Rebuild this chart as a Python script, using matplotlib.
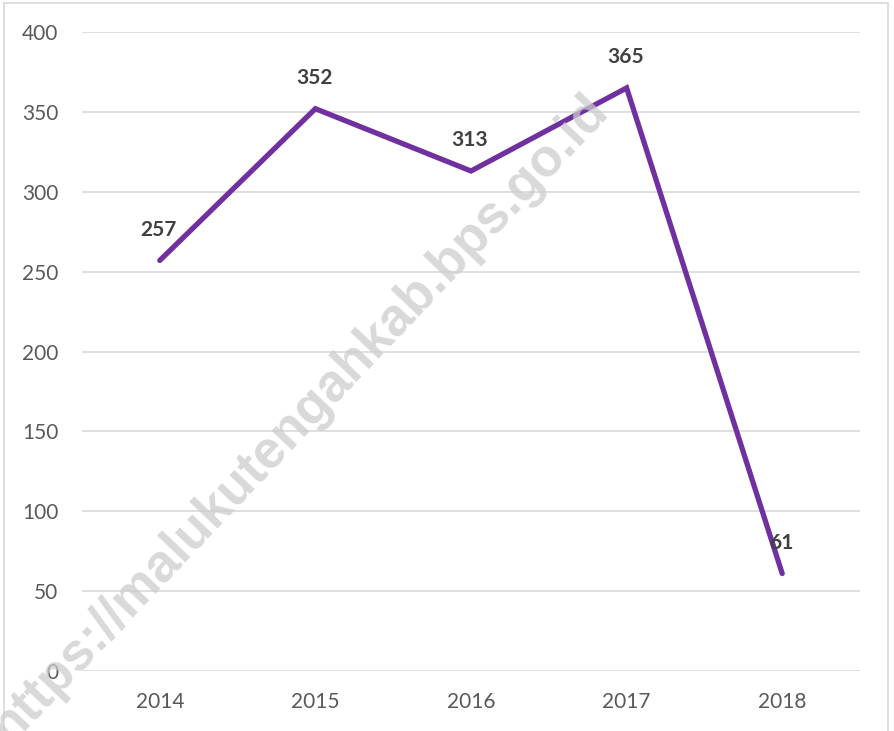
import matplotlib

matplotlib.use("Agg")
import matplotlib.pyplot as plt
from matplotlib.patches import Rectangle

years = ["2014", "2015", "2016", "2017", "2018"]
values = [257, 352, 313, 365, 61]
y_ticks = [0, 50, 100, 150, 200, 250, 300, 350, 400]
watermark = "https://malukutengahkab.bps.go.id"

plt.rcParams["font.family"] = ["Lato", "DejaVu Sans"]

fig = plt.figure(figsize=(8.94, 7.31), dpi=100)
ax = fig.add_axes([0.0917, 0.0821, 0.962 - 0.0917, 0.9562 - 0.0821])

x = list(range(len(years)))
ax.plot(x, values, color="#7030A0", linewidth=3.8, solid_joinstyle="miter",
        solid_capstyle="round", zorder=4)

for xi, v in zip(x, values):
    ax.annotate(str(v), (xi, v), xytext=(-1, 15), textcoords="offset points",
                ha="center", va="bottom", fontsize=15, fontweight="bold",
                color="#404040", zorder=5)

ax.set_xlim(-0.5, len(years) - 0.5)
ax.set_ylim(0, 400)
ax.set_xticks(x)
ax.set_xticklabels(years)
ax.set_yticks(y_ticks)
ax.tick_params(axis="both", length=0, labelsize=15, colors="#595959")
ax.tick_params(axis="x", pad=15)
ax.tick_params(axis="y", pad=17)
ax.grid(axis="y", color="#d9d9d9", linewidth=1.2, zorder=1)
ax.set_axisbelow(True)
for s in ax.spines.values():
    s.set_visible(False)

# watermark over the gridlines, under the line
fig.text(0.335, 0.428, watermark, rotation=46.5, ha="center", va="center",
         fontsize=38, fontweight="bold", color="#cccccc", alpha=0.75,
         family=["Liberation Sans", "DejaVu Sans"], zorder=3)

# light border round the chart
fig.patches.append(Rectangle((4 / 894, -0.01), 884 / 894, 1 - 3 / 731 + 0.01,
                             transform=fig.transFigure, fill=False,
                             edgecolor="#d9d9d9", linewidth=1.2))

fig.savefig("out.png", dpi=100)
